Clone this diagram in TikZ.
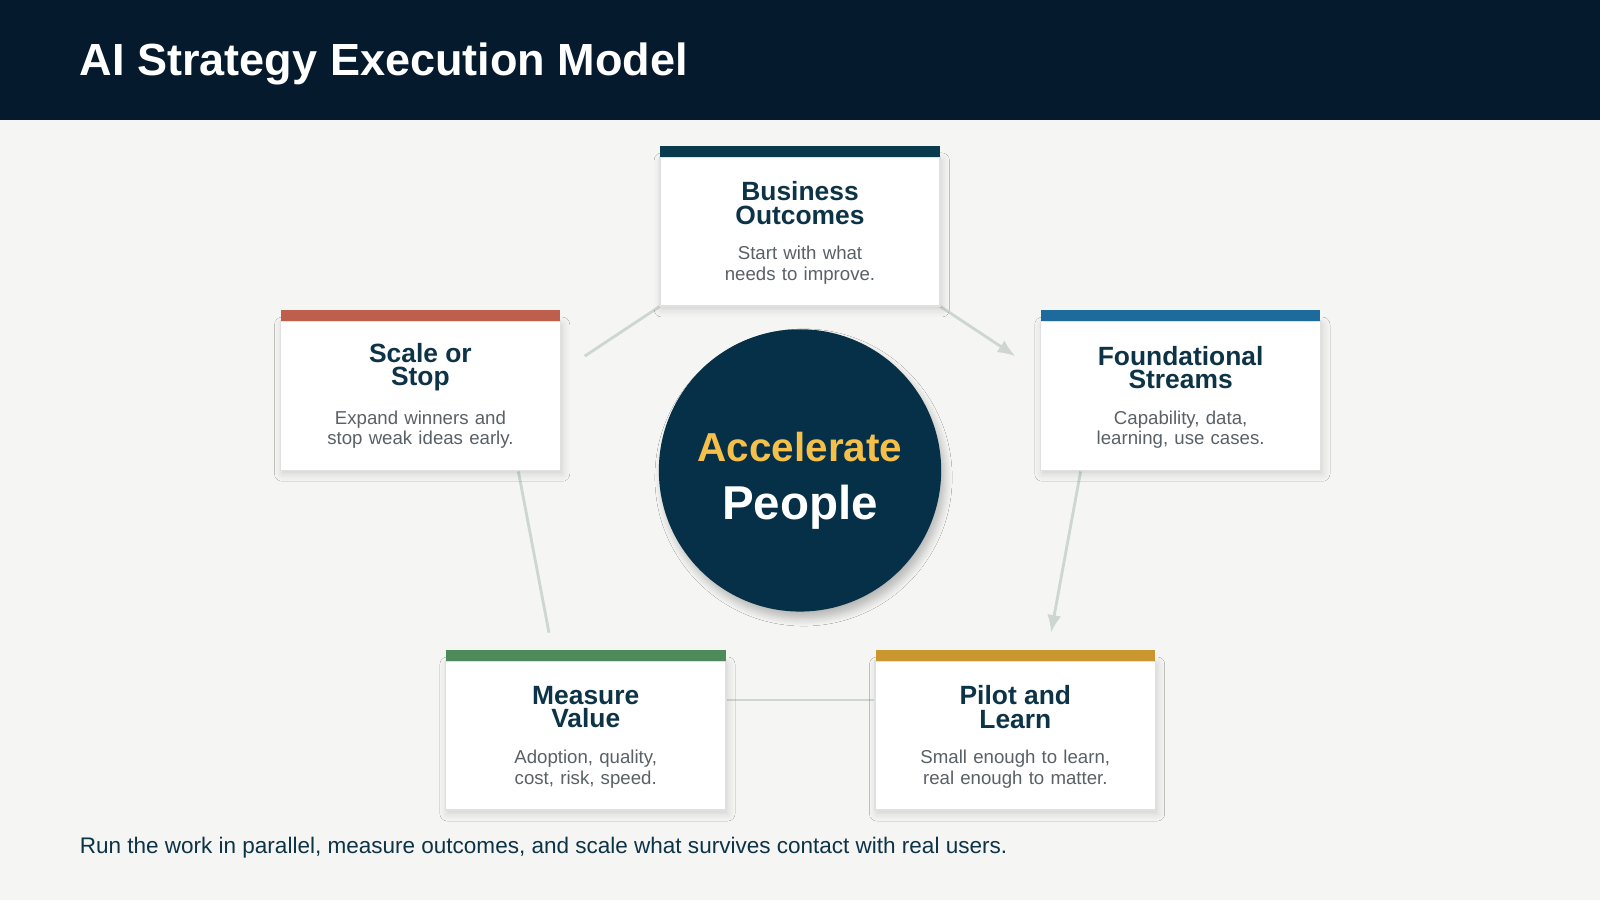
\documentclass[tikz,border=0pt]{standalone}
\usepackage{fontspec}
\setmainfont{Liberation Sans}
\usetikzlibrary{shadows.blur,arrows.meta}
\definecolor{navy}{HTML}{061A2E}
\definecolor{deep}{HTML}{053047}
\definecolor{ink}{HTML}{0D3347}
\definecolor{muted}{HTML}{5A6166}
\definecolor{paper}{HTML}{F5F5F3}
\definecolor{link}{HTML}{CDD6D1}
\definecolor{gold}{HTML}{F5C04A}
\definecolor{cRed}{HTML}{BE5E4C}
\definecolor{cBlue}{HTML}{1D6A9C}
\definecolor{cGreen}{HTML}{4E8A5A}
\definecolor{cYellow}{HTML}{C9962F}
\definecolor{cTeal}{HTML}{0B3A4C}
\tikzset{
  stagecard/.style={draw=black!12, fill=white, minimum width=2.80cm, minimum height=1.49cm,
    anchor=north, inner sep=0pt, blur shadow={shadow blur steps=6, shadow xshift=0.5pt, shadow yshift=-1pt, shadow opacity=15}},
  stagetitle/.style={text=ink, font=\bfseries\fontsize{7.5}{6.6}\selectfont, align=center},
  stagetext/.style={text=muted, font=\fontsize{5.3}{5.9}\selectfont, align=center, text width=2.6cm},
  flow/.style={draw=link, line width=0.8pt},
}
% name, cx, top, colour, title, text
\newcommand{\stagebox}[6]{%
  \node[stagecard] (#1) at (#2,#3+10) {};
  \fill[#4] (#2-137,#3) rectangle (#2+137,#3+11);
  \node[stagetitle] (#1t) at (#2,#3+56) {#5};
  \node[stagetext] (#1d) at (#2,#3+117) {#6};
}
\begin{document}
\begin{tikzpicture}[x=0.0102cm,y=-0.0102cm]
  \useasboundingbox (0,0) rectangle (1568,882);
  \fill[paper] (0,0) rectangle (1568,882);
  \fill[navy] (0,0) rectangle (1568,118);
  \node[anchor=west, text=white, font=\bfseries\fontsize{12.8}{14}\selectfont] (title) at (66,63) {AI Strategy Execution Model};
  % connectors
  \coordinate (p1) at (918,298); \coordinate (p2) at (995,349);
  \coordinate (p3) at (1059,462); \coordinate (p4) at (1030,620);
  \coordinate (p5) at (858,686); \coordinate (p6) at (711,686);
  \coordinate (p7) at (538,620); \coordinate (p8) at (508,462);
  \coordinate (p9) at (573,349); \coordinate (p10) at (650,298);
  \draw[flow, -{Latex[length=5pt,width=4pt]}] (p1) -- (p2);
  \draw[flow, -{Latex[length=5pt,width=4pt]}] (p3) -- (p4);
  \draw[flow] (p5) -- (p6);
  \draw[flow] (p7) -- (p8);
  \draw[flow] (p9) -- (p10);
  % hub
  \node[circle, fill=deep, minimum size=2.82cm, inner sep=0pt,
    blur shadow={shadow blur steps=8, shadow xshift=1pt, shadow yshift=-2pt, shadow opacity=25}] (hub) at (784,461) {};
  \node[text=gold, font=\bfseries\fontsize{11.5}{12}\selectfont] (hubtop) at (784,438) {Accelerate};
  \node[text=white, font=\bfseries\fontsize{13.5}{14}\selectfont] (hubbot) at (784,497) {People};
  % stages
  \stagebox{outcomes}{784}{143}{cTeal}{Business\\Outcomes}{Start with what needs to improve.}
  \stagebox{streams}{1157}{304}{cBlue}{Foundational\\Streams}{Capability, data, learning, use cases.}
  \stagebox{pilot}{995}{637}{cYellow}{Pilot and\\Learn}{Small enough to learn, real enough to matter.}
  \stagebox{measure}{574}{637}{cGreen}{Measure\\Value}{Adoption, quality, cost, risk, speed.}
  \stagebox{scale}{412}{304}{cRed}{Scale or\\Stop}{Expand winners and stop weak ideas early.}
  \node[anchor=west, text=ink, font=\fontsize{6.4}{7}\selectfont] (footer) at (66,831) {Run the work in parallel, measure outcomes, and scale what survives contact with real users.};
\end{tikzpicture}
\end{document}
